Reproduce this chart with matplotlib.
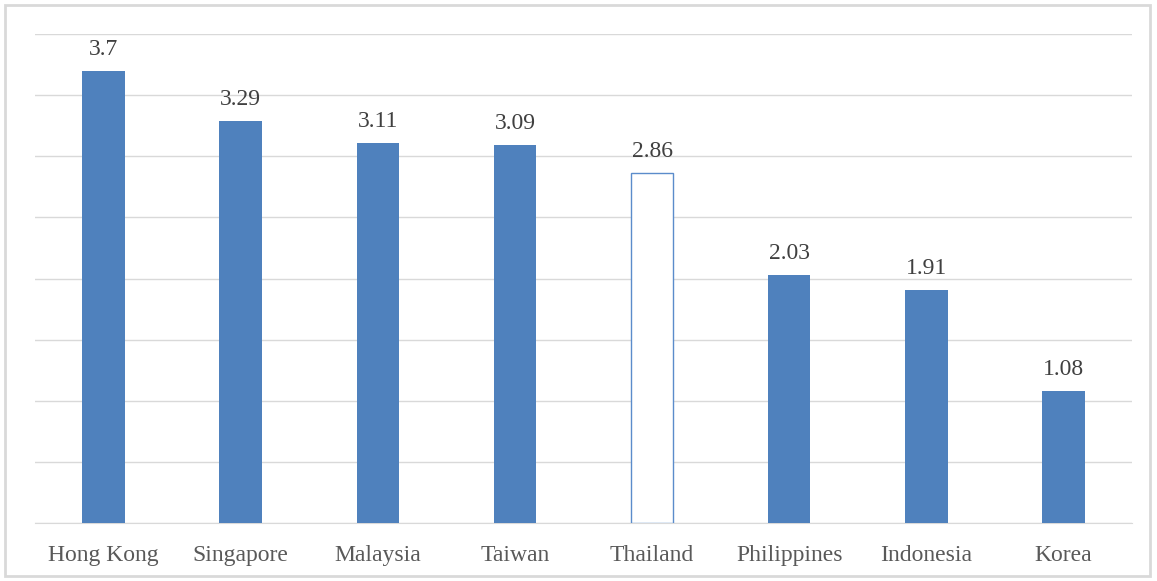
import numpy as np
import matplotlib.pyplot as plt
from matplotlib.patches import Rectangle

countries = ['Hong Kong', 'Singapore', 'Malaysia', 'Taiwan', 'Thailand',
             'Philippines', 'Indonesia', 'Korea']
values = [3.7, 3.29, 3.11, 3.09, 2.86, 2.03, 1.91, 1.08]
hollow = 'Thailand'

plt.rcParams['font.family'] = ['Liberation Serif', 'DejaVu Serif']

fig = plt.figure(figsize=(11.57, 5.81), dpi=100)
ax = fig.add_axes([35/1157, 1 - 523/581, (1132 - 35)/1157, (523 - 34)/581])

# light grey frame round the whole chart
fig.patches.append(Rectangle((5/1157, 5/581), 1145/1157, 571/581,
                             transform=fig.transFigure, fill=False,
                             edgecolor='#D9D9D9', linewidth=2))

x = np.arange(len(countries))
for i, (c, v) in enumerate(zip(countries, values)):
    if c == hollow:
        ax.bar(x[i], v, width=0.31, color='white', edgecolor='#5B8CCB',
               linewidth=1.0, zorder=3)
    else:
        ax.bar(x[i], v, width=0.31, color='#4F81BD', zorder=3)
    ax.text(x[i], v + 0.09, '{:g}'.format(v), ha='center', va='bottom',
            fontsize=17, color='#404040')

ax.set_xlim(-0.5, len(countries) - 0.5)
ax.set_ylim(0, 4)
ax.set_yticks(np.arange(0, 4.01, 0.5))
ax.yaxis.grid(True, color='#D9D9D9', linewidth=1)
ax.set_axisbelow(True)
ax.tick_params(axis='y', length=0, labelleft=False)
ax.tick_params(axis='x', length=0, pad=16, labelsize=17, labelcolor='#595959')
ax.set_xticks(x)
ax.set_xticklabels(countries)
for s in ['top', 'right', 'left']:
    ax.spines[s].set_visible(False)
ax.spines['bottom'].set_color('#D9D9D9')

plt.savefig('out.png', dpi=100)
